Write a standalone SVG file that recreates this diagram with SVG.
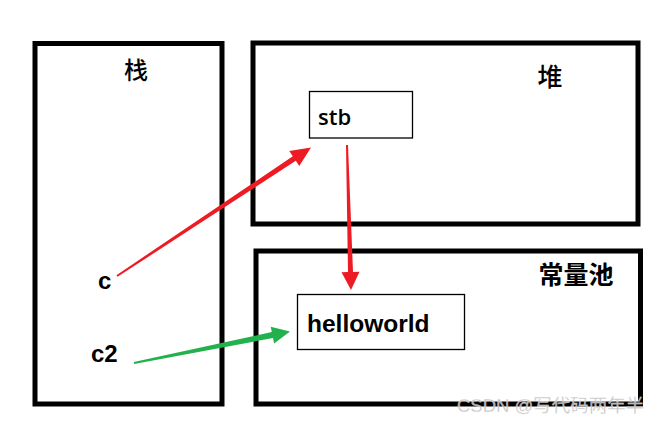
<svg xmlns="http://www.w3.org/2000/svg" width="664" height="425" viewBox="0 0 664 425">
<style>
.area{fill:none;stroke:#000;stroke-width:5}
.obj{fill:#fff;stroke:#000;stroke-width:1.3}
.cjk{font-family:"Noto Sans CJK SC","Noto Sans",sans-serif;fill:#000}
.lat{font-family:"Liberation Sans","Noto Sans",sans-serif;fill:#000}
.red{fill:#ED1C24}
.green{fill:#22B14C}
</style>
<rect width="664" height="425" fill="#fff"/>
<g id="stack">
<rect class="area" x="35" y="43.5" width="187" height="360.5"/>
<text class="cjk" x="136" y="79" font-size="24" font-weight="500" text-anchor="middle">栈</text>
<text class="lat" x="98" y="289" font-size="24" font-weight="bold">c</text>
<text class="lat" x="91" y="362" font-size="24" font-weight="bold">c2</text>
</g>
<g id="heap">
<rect class="area" x="253" y="43" width="385" height="181"/>
<text class="cjk" x="550" y="86" font-size="25" font-weight="500" text-anchor="middle">堆</text>
</g>
<g id="stb">
<rect class="obj" x="309.5" y="91.5" width="103" height="46.5"/>
<text font-family="Open Sans, Noto Sans, sans-serif" font-weight="600" x="318" y="125" font-size="22">stb</text>
</g>
<g id="pool">
<rect class="area" x="256" y="251" width="384.5" height="153"/>
<text class="cjk" x="576" y="284" font-size="25" font-weight="bold" text-anchor="middle">常量池</text>
</g>
<g id="helloworld">
<rect class="obj" x="297.5" y="294.5" width="167" height="55"/>
<text class="lat" x="307" y="332" font-size="24.5" font-weight="bold">helloworld</text>
</g>
<g id="connectors">
<polygon class="red" points="116.45,275.17 292.8,156.2 289.3,151.0 311,147.5 299.3,166.0 295.8,160.8 117.55,276.83"/>
<polygon class="red" points="346,145 348,272.1 341.5,272.25 351,290 359.5,271.75 353,271.9 348,145"/>
<polygon class="green" points="133.8,362.02 271.8,332.1 270.7,326.8 290,331.5 274.1,343.4 273.0,338.0 134.2,363.98"/>
</g>
<text font-family="Liberation Sans,Noto Sans CJK SC,sans-serif" x="457" y="412" font-size="18.5" fill="#bbb" stroke="#fff" stroke-width="0.3" opacity="0.9">CSDN @写代码两年半</text>
</svg>
